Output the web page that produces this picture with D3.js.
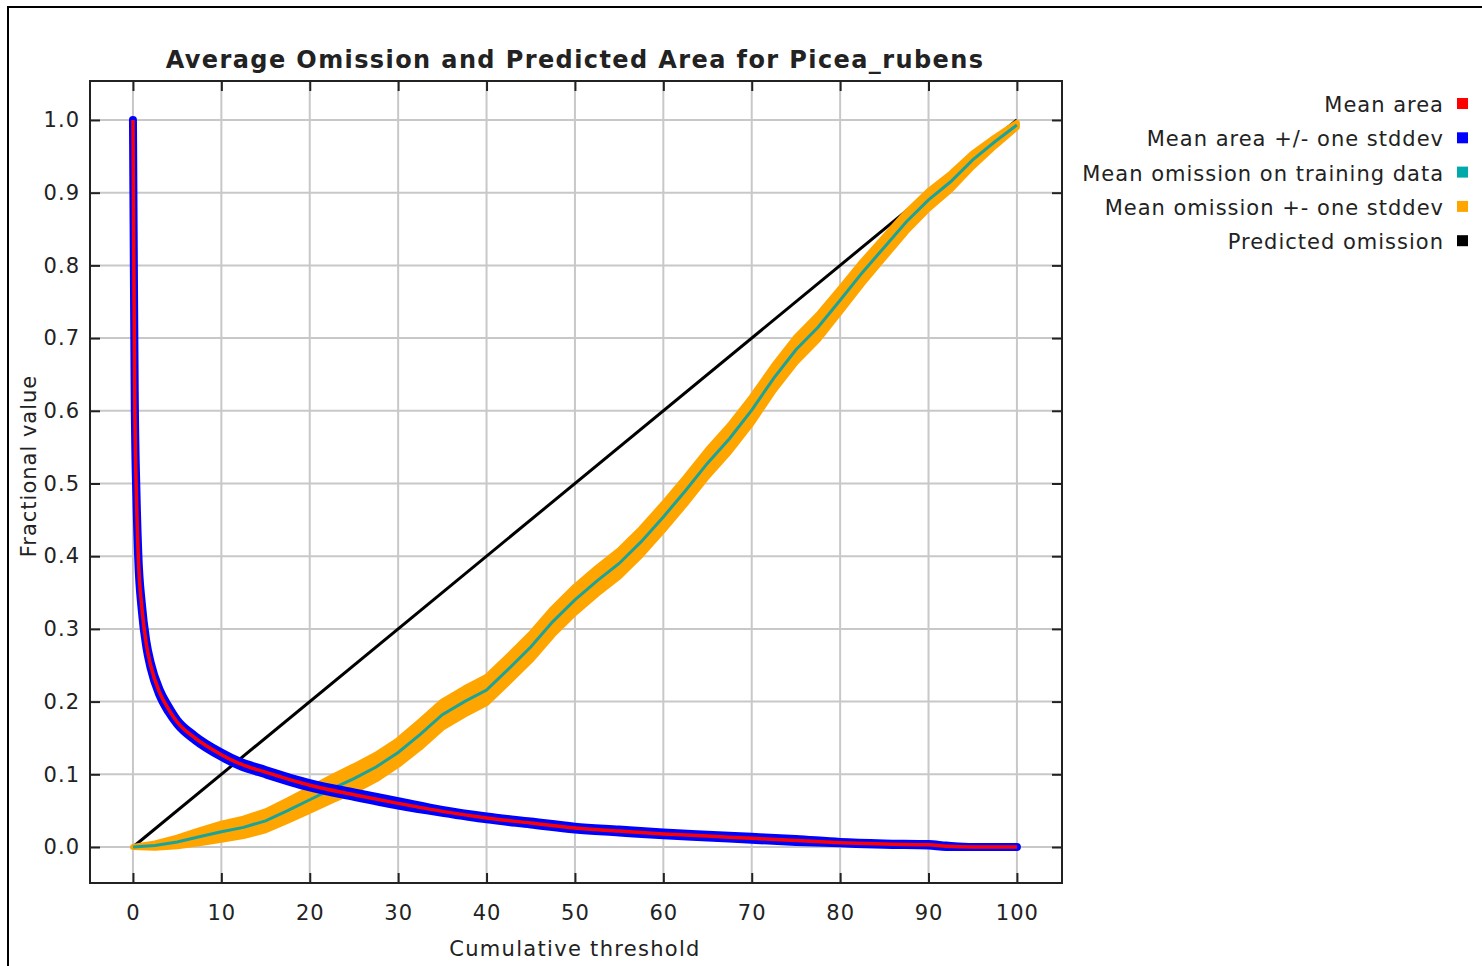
<!DOCTYPE html>
<html>
<head>
<meta charset="utf-8">
<script src="https://cdn.jsdelivr.net/npm/d3@7"></script>
<style>
  body { margin: 0; background: #fff; }
  svg { display: block; }
  text { font-family: "DejaVu Sans", sans-serif; fill: #222; }
</style>
</head>
<body>
<div id="chart"></div>
<script>
// cumulative threshold for the omission curves
var omissionT = [0, 2.5, 5, 7.5, 10, 12.5, 15, 17.5, 20, 22.5, 25, 27.5, 30, 32.5, 35, 37.5, 40,
  42.5, 45, 47.5, 50, 52.5, 55, 57.5, 60, 62.5, 65, 67.5, 70, 72.5, 75, 77.5, 80, 82.5, 85,
  87.5, 90, 92.5, 95, 97.5, 100];
var meanOmission = [0, 0.002, 0.007, 0.014, 0.021, 0.027, 0.036, 0.05, 0.065, 0.08, 0.094, 0.11,
  0.13, 0.155, 0.182, 0.2, 0.216, 0.245, 0.275, 0.31, 0.34, 0.366, 0.39, 0.42, 0.454, 0.49,
  0.528, 0.562, 0.601, 0.645, 0.684, 0.715, 0.752, 0.79, 0.825, 0.86, 0.89, 0.915, 0.945, 0.97, 0.993];
var omissionSd = [0, 0.003, 0.006, 0.009, 0.011, 0.012, 0.013, 0.014, 0.015, 0.016, 0.017, 0.017,
  0.017, 0.018, 0.018, 0.018, 0.018, 0.018, 0.018, 0.018, 0.018, 0.018, 0.018, 0.018, 0.018, 0.018,
  0.018, 0.018, 0.018, 0.017, 0.017, 0.017, 0.016, 0.015, 0.014, 0.013, 0.012, 0.011, 0.009, 0.006, 0.003];

// cumulative threshold for the predicted area curves
var areaT = [0, 0.1, 0.2, 0.4, 0.6, 1, 1.5, 2, 3, 4, 5, 7, 10, 12, 15, 20, 25, 30, 35, 40, 45,
  50, 55, 60, 65, 70, 75, 80, 85, 90, 92, 95, 100];
var meanArea = [1.0, 0.8, 0.62, 0.48, 0.4, 0.33, 0.28, 0.25, 0.213, 0.19, 0.172, 0.15, 0.127, 0.115,
  0.103, 0.085, 0.072, 0.06, 0.049, 0.04, 0.033, 0.026, 0.022, 0.018, 0.015, 0.012, 0.009, 0.006,
  0.004, 0.003, 0.001, 0, 0];
var areaSd = [0, 0.004, 0.006, 0.006, 0.005, 0.005, 0.004, 0.004, 0.004, 0.004, 0.003, 0.003, 0.003,
  0.003, 0.003, 0.003, 0.003, 0.003, 0.002, 0.002, 0.002, 0.002, 0.002, 0.002, 0.002, 0.002, 0.002,
  0.001, 0.001, 0.001, 0.001, 0, 0];

var xTicks = [0, 10, 20, 30, 40, 50, 60, 70, 80, 90, 100];
var yTicks = [0, 0.1, 0.2, 0.3, 0.4, 0.5, 0.6, 0.7, 0.8, 0.9, 1.0];

var legendNames = ["Mean area", "Mean area +/- one stddev", "Mean omission on training data",
  "Mean omission +- one stddev", "Predicted omission"];
var legendColors = ["#ff0000", "#0000ff", "#00aaaa", "#ffa500", "#000000"];

var W = 1482, H = 966;
var svg = d3.select("#chart").append("svg")
  .attr("width", W)
  .attr("height", H);

// outer frame
svg.append("rect")
  .attr("x", 8).attr("y", 7)
  .attr("width", W).attr("height", H)
  .attr("fill", "none").attr("stroke", "#000").attr("stroke-width", 2);

var x = d3.scaleLinear().domain([-4.86, 105.1]).range([90, 1062]);
var y = d3.scaleLinear().domain([-0.0495, 1.0536]).range([883, 81]);

// grid
svg.append("g").selectAll("line").data(xTicks).join("line")
  .attr("x1", d => x(d)).attr("x2", d => x(d))
  .attr("y1", 81).attr("y2", 883)
  .attr("stroke", "#c8c8c8").attr("stroke-width", 2);
svg.append("g").selectAll("line").data(yTicks).join("line")
  .attr("y1", d => y(d)).attr("y2", d => y(d))
  .attr("x1", 90).attr("x2", 1062)
  .attr("stroke", "#c8c8c8").attr("stroke-width", 2);

// predicted omission
svg.append("line")
  .attr("x1", x(0)).attr("y1", y(0))
  .attr("x2", x(100)).attr("y2", y(1))
  .attr("stroke", "#000").attr("stroke-width", 3);

var omission = omissionT.map((t, i) => ({t: t, m: meanOmission[i], sd: omissionSd[i]}));
var area = areaT.map((t, i) => ({t: t, m: meanArea[i], sd: areaSd[i]}));

function band(data, curve) {
  return d3.area()
    .curve(curve)
    .x(d => x(d.t))
    .y0(d => y(d.m - d.sd))
    .y1(d => y(d.m + d.sd))(data);
}
function line(data, curve) {
  return d3.line().curve(curve).x(d => x(d.t)).y(d => y(d.m))(data);
}

// omission +- stddev
svg.append("path").attr("d", band(omission, d3.curveLinear))
  .attr("fill", "#ffa500").attr("stroke", "#ffa500").attr("stroke-width", 6)
  .attr("stroke-linejoin", "round");
svg.append("path").attr("d", line(omission, d3.curveLinear))
  .attr("fill", "none").attr("stroke", "#1aa39a").attr("stroke-width", 3);

// area +- stddev
svg.append("path").attr("d", band(area, d3.curveMonotoneX))
  .attr("fill", "#0000ff").attr("stroke", "#0000ff").attr("stroke-width", 8)
  .attr("stroke-linejoin", "round");
svg.append("path").attr("d", line(area, d3.curveMonotoneX))
  .attr("fill", "none").attr("stroke", "#ff0000").attr("stroke-width", 3.5);

// plot border
svg.append("rect")
  .attr("x", 90).attr("y", 81).attr("width", 972).attr("height", 802)
  .attr("fill", "none").attr("stroke", "#222").attr("stroke-width", 2);

// axes with inward ticks
svg.append("g").attr("transform", "translate(0,883)")
  .call(d3.axisBottom(x).tickValues(xTicks).tickSize(-10).tickPadding(22).tickFormat(d3.format("d")))
  .call(g => g.select(".domain").remove())
  .call(g => g.selectAll("line").attr("stroke", "#222").attr("stroke-width", 2))
  .call(g => g.selectAll("text").attr("font-size", 21).attr("font-family", "DejaVu Sans")
    .attr("letter-spacing", 1).attr("fill", "#222"));
svg.append("g").attr("transform", "translate(0,81)")
  .call(d3.axisTop(x).tickValues(xTicks).tickSize(-10).tickFormat(""))
  .call(g => g.select(".domain").remove())
  .call(g => g.selectAll("line").attr("stroke", "#222").attr("stroke-width", 2));
svg.append("g").attr("transform", "translate(90,0)")
  .call(d3.axisLeft(y).tickValues(yTicks).tickSize(-10).tickPadding(10).tickFormat(d3.format(".1f")))
  .call(g => g.select(".domain").remove())
  .call(g => g.selectAll("line").attr("stroke", "#222").attr("stroke-width", 2))
  .call(g => g.selectAll("text").attr("font-size", 21).attr("font-family", "DejaVu Sans")
    .attr("letter-spacing", 1).attr("fill", "#222"));
svg.append("g").attr("transform", "translate(1062,0)")
  .call(d3.axisRight(y).tickValues(yTicks).tickSize(-10).tickFormat(""))
  .call(g => g.select(".domain").remove())
  .call(g => g.selectAll("line").attr("stroke", "#222").attr("stroke-width", 2));

// titles
svg.append("text")
  .attr("x", 575).attr("y", 68)
  .attr("text-anchor", "middle")
  .attr("font-size", 24).attr("font-weight", "bold")
  .attr("letter-spacing", 1.4)
  .text("Average Omission and Predicted Area for Picea_rubens");
svg.append("text")
  .attr("x", 575).attr("y", 956)
  .attr("text-anchor", "middle")
  .attr("font-size", 21).attr("letter-spacing", 1.3)
  .text("Cumulative threshold");
svg.append("text")
  .attr("transform", "translate(36,466) rotate(-90)")
  .attr("text-anchor", "middle")
  .attr("font-size", 21).attr("letter-spacing", 1)
  .text("Fractional value");

// legend
var legend = svg.append("g").selectAll("g").data(legendNames).join("g")
  .attr("transform", (d, i) => "translate(0," + (104 + i * 34.3) + ")");
legend.append("text")
  .attr("x", 1444).attr("y", 8)
  .attr("text-anchor", "end")
  .attr("font-size", 21).attr("letter-spacing", 1)
  .text(d => d);
legend.append("rect")
  .attr("x", 1457).attr("y", -6)
  .attr("width", 11).attr("height", 11)
  .attr("fill", (d, i) => legendColors[i]);
</script>
</body>
</html>
